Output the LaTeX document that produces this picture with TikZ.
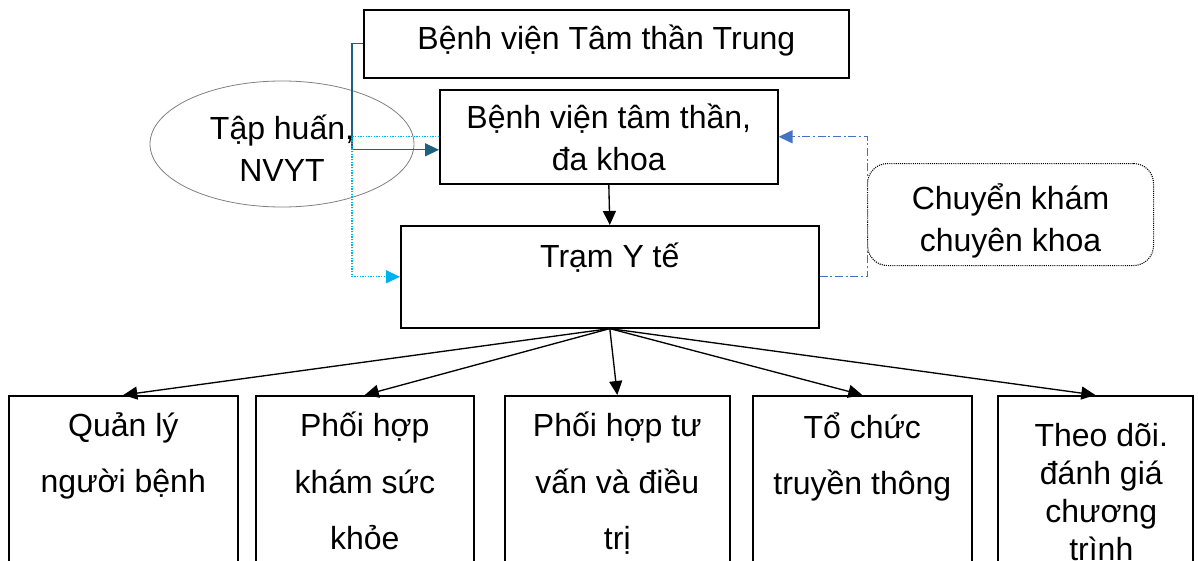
\documentclass[tikz,border=0pt]{standalone}
\usepackage{fontspec}
\setmainfont{Liberation Sans}
\usetikzlibrary{arrows.meta,shapes.geometric}
\definecolor{tealline}{RGB}{31,96,128}
\definecolor{dotblue}{RGB}{0,176,240}
\definecolor{dashblue}{RGB}{68,114,196}

\begin{document}
\begin{tikzpicture}[x=0.75pt, y=-0.75pt,
		box/.style={draw, line width=1.2pt, anchor=north west, inner sep=0pt},
		txt/.style={anchor=north, inner sep=0pt, align=center, font=\fontsize{24}{31.5}\selectfont, execute at begin node={\rule{0pt}{24pt}}},
		wide/.style={font=\fontsize{24}{42.4}\selectfont},
		arr/.style={line width=1pt, -{Triangle[length=10.5pt, width=9.75pt]}}]
			\clip (0,0) rectangle (1198,560);
			\node (1) [box, minimum width=363.75pt, minimum height=51pt, label={[txt, yshift=-6pt]north:Bệnh viện Tâm thần Trung}] at (363,9) {};
			\node (2) [box, minimum width=253.5pt, minimum height=70.5pt, label={[txt, yshift=-11.25pt]north:{Bệnh viện tâm thần,\\đa khoa}}] at (439,89) {};
			\node (3) [box, minimum width=313.5pt, minimum height=76.5pt, label={[txt, yshift=-7.5pt]north:Trạm Y tế}] at (400,225) {};
			\node (4) [ellipse, draw=gray, line width=0.6pt, inner sep=0pt, minimum width=198pt, minimum height=94.5pt, label={[txt, yshift=-25.5pt]north:{Tập huấn,\\NVYT}}] at (282,144) {};
			\node (5) [box, line width=0.8pt, dash pattern=on 0.8pt off 0.8pt, rounded corners=15pt, minimum width=214.5pt, minimum height=76.5pt, label={[txt, yshift=-15pt]north:{Chuyển khám\\chuyên khoa}}] at (867,163) {};
			
			\node (6) [box, minimum width=171.75pt, minimum height=165pt, label={[txt, wide, yshift=-12.75pt]north:{Quản lý\\người bệnh}}] at (8,395) {};
			\node (7) [box, minimum width=163.5pt, minimum height=165pt, label={[txt, wide, yshift=-12.75pt]north:{Phối hợp\\khám sức\\khỏe}}] at (255,395) {};
			\node (8) [box, minimum width=168.75pt, minimum height=165pt, label={[txt, wide, yshift=-12.75pt]north:{Phối hợp tư\\vấn và điều\\trị}}] at (504,395) {};
			\node (9) [box, minimum width=164.25pt, minimum height=165pt, label={[txt, wide, yshift=-12.75pt]north:{Tổ chức\\truyền thông}}] at (752,395) {};
			\node (10) [box, minimum width=146.25pt, minimum height=165pt, label={[txt, font=\fontsize{24}{28.5}\selectfont, yshift=-21pt, xshift=4.5pt]north:{Theo dõi.\\đánh giá\\chương\\trình}}] at (997,395) {};
			
			\draw[arr, tealline] (1.west) -- ++(-11,0) |- ([yshift=-9.75pt]2.west);
			\draw[arr, dotblue, dash pattern=on 1pt off 1pt] (2.west) -- ++(-87,0) |- (3.west);
			\draw[arr, dashblue, dash pattern=on 6pt off 2pt on 1.5pt off 2pt] (3.east) -- ++(48,0) |- (2.east);
			\draw[arr] (2.south) -- (3.north);
			\foreach \n in {6,...,10}
				\draw[arr] (3.south) -- (\n.north);
		\end{tikzpicture}
\end{document}
